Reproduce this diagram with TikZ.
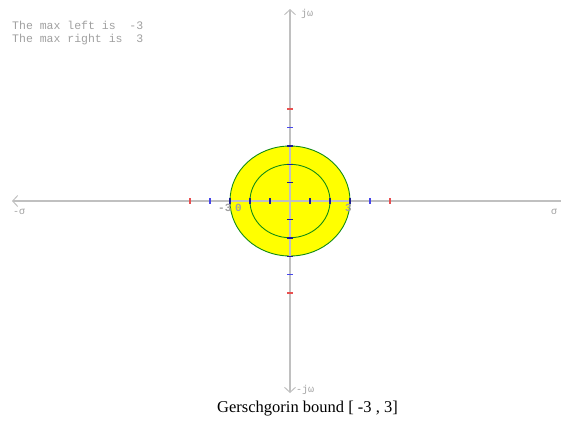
\documentclass[tikz,border=0pt]{standalone}
\usepackage{fontspec}
\setmainfont{Liberation Serif}
\setmonofont{Liberation Mono}
\usetikzlibrary{arrows.meta,positioning}
\definecolor{axisgrey}{RGB}{192,192,192}
\definecolor{textgrey}{RGB}{160,160,160}
\definecolor{discgreen}{RGB}{20,140,20}
\definecolor{discyellow}{RGB}{255,255,0}
\definecolor{tickred}{RGB}{232,80,80}
\definecolor{tickblue}{RGB}{70,70,235}
\definecolor{ticknavy}{RGB}{30,30,150}
\tikzset{
 axisline/.style={draw=axisgrey, line width=1.3pt},
 barb/.tip={Straight Barb[length=5pt,width=11pt,line width=1pt]},
 ring/.style={draw=discgreen, line width=0.9pt},
 tickmark/.style={line width=1.4pt},
 monolabel/.style={text=textgrey, font=\ttfamily\bfseries\fontsize{11}{12}\selectfont, inner sep=0pt},
 axislabel/.style={text=textgrey, font=\ttfamily\fontsize{10}{11}\selectfont, inner sep=0pt, anchor=west},
 caption/.style={font=\fontsize{16.5}{19}\selectfont, inner sep=0pt}
}
\begin{document}
\begin{tikzpicture}[x=1pt,y=-1pt]
 \useasboundingbox (0,0) rectangle (563,437);
 \coordinate (O) at (290,201);
 \coordinate (west) at (12,201);
 \coordinate (east) at (561,201);
 \coordinate (north) at (290,9);
 \coordinate (south) at (290,393);
 % Gerschgorin disc and inner circle
 \fill[discyellow] (O) ellipse (60 and 55);
 \draw[ring] (O) ellipse (60 and 55);
 \draw[ring] (O) ellipse (40 and 36.7);
 % axes
 \draw[axisline, barb-] (west) -- (east);
 \draw[axisline, barb-barb] (north) -- (south);
 % ticks
 \foreach \i/\c in {1/ticknavy,2/ticknavy,3/ticknavy,4/tickblue,5/tickred}{
 \draw[tickmark, draw=\c] (290+\i*20,198) -- (290+\i*20,204);
 \draw[tickmark, draw=\c] (290-\i*20,198) -- (290-\i*20,204);
 \draw[tickmark, draw=\c] (287,201-\i*18.4) -- (293,201-\i*18.4);
 \draw[tickmark, draw=\c] (287,201+\i*18.4) -- (293,201+\i*18.4);
 }
 % labels
 \node[axislabel] (jw) at (301,14) {jω};
 \node[axislabel] (mjw) at (296,390) {-jω};
 \node[axislabel] (msig) at (13,212) {-σ};
 \node[axislabel] (sig) at (551,212) {σ};
 \node[monolabel, anchor=west] (mthree) at (218,208) {-3};
 \node[monolabel, anchor=west] (zero) at (235,208) {0};
 \node[monolabel, anchor=west] (three) at (345,208) {3};
 \node[monolabel, anchor=north west, align=left, font=\ttfamily\fontsize{11.5}{13}\selectfont] (maxinfo) at (12,21)
 {The max left is\ \ -3\\The max right is\ \ 3};
 \node[caption] (title) at (307.5,409) {Gerschgorin bound [ -3 , 3]};
\end{tikzpicture}
\end{document}
